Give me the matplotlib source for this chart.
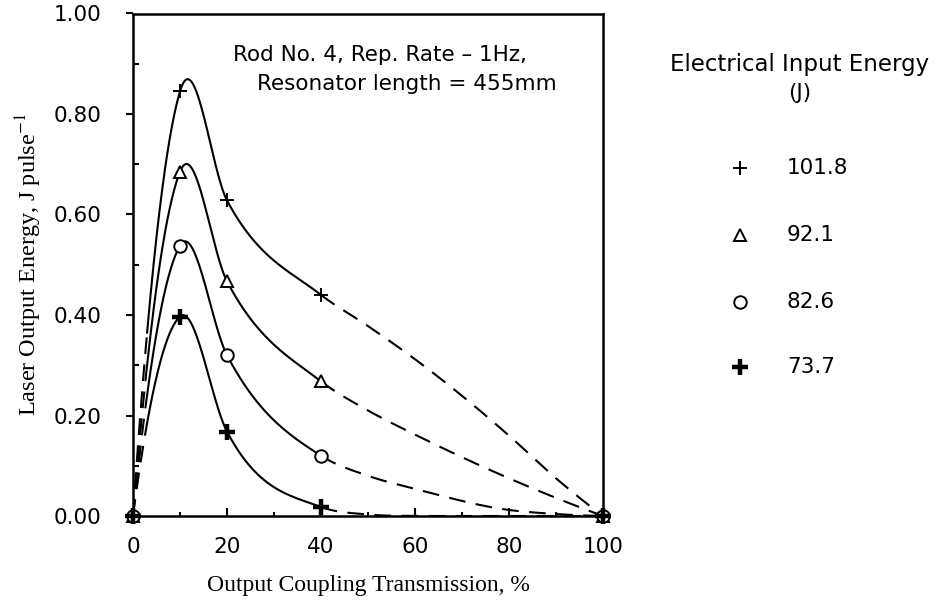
import numpy as np
import matplotlib
matplotlib.use("Agg")
import matplotlib.pyplot as plt
from matplotlib.lines import Line2D
from matplotlib.ticker import FormatStrFormatter, MultipleLocator

# Output coupling transmission (%) at which the energy was measured
transmission = [0, 10, 20, 40, 100]

# Laser output energy (J per pulse) for each electrical input energy
energy_1018 = [0.0, 0.845, 0.628, 0.440, 0.0]
energy_921 = [0.0, 0.685, 0.467, 0.268, 0.0]
energy_826 = [0.0, 0.538, 0.320, 0.120, 0.0]
energy_737 = [0.0, 0.397, 0.168, 0.018, 0.0]

# Extrapolated trend (dashed) beyond the last measured coupling
tail_x = [50, 60, 80, 90]
tail_1018 = [0.378, 0.312, 0.160, 0.075]
tail_921 = [0.210, 0.162, 0.075, 0.036]
tail_826 = [0.080, 0.054, 0.012, 0.004]
tail_737 = [0.003, 0.000, 0.000, 0.000]

input_energy = ["101.8", "92.1", "82.6", "73.7"]

W, H = 945, 608
plt.rcParams["mathtext.fontset"] = "stix"
fig = plt.figure(figsize=(W / 100, H / 100), dpi=100)

# axes box in pixel terms
x0, x1, y0, y1 = 133, 603, 516, 13.5
ax = fig.add_axes([x0 / W, 1 - y0 / H, (x1 - x0) / W, (y0 - y1) / H])


def smooth_curve(xk, yk, xs):
    """Piecewise cubic Hermite curve with three-point (Bessel) slopes."""
    xk = np.asarray(xk, float)
    yk = np.asarray(yk, float)
    n = len(xk)
    h = np.diff(xk)
    d = np.diff(yk) / h
    m = np.zeros(n)
    for i in range(1, n - 1):
        m[i] = (h[i] * d[i - 1] + h[i - 1] * d[i]) / (h[i - 1] + h[i])
    m[0] = ((2 * h[0] + h[1]) * d[0] - h[0] * d[1]) / (h[0] + h[1])
    m[-1] = ((2 * h[-1] + h[-2]) * d[-1] - h[-1] * d[-2]) / (h[-1] + h[-2])
    idx = np.clip(np.searchsorted(xk, xs) - 1, 0, n - 2)
    hh = h[idx]
    t = (xs - xk[idx]) / hh
    h00 = 2 * t**3 - 3 * t**2 + 1
    h10 = t**3 - 2 * t**2 + t
    h01 = -2 * t**3 + 3 * t**2
    h11 = t**3 - t**2
    return (h00 * yk[idx] + h10 * hh * m[idx]
            + h01 * yk[idx + 1] + h11 * hh * m[idx + 1])


series = [
    (energy_1018, tail_1018, dict(marker="+", ms=10, mew=1.4, mfc="none")),
    (energy_921, tail_921, dict(marker="^", ms=8, mew=1.4, mfc="white")),
    (energy_826, tail_826, dict(marker="o", ms=9, mew=1.4, mfc="white")),
    (energy_737, tail_737, dict(marker="+", ms=11, mew=3.2, mfc="none")),
]

lw = 1.5
dash = (0, (8, 5))
for vals, tail, mstyle in series:
    kx = transmission[:4] + tail_x + transmission[4:]
    ky = vals[:4] + tail + vals[4:]
    xs = np.linspace(0, 100, 1001)
    ys = np.clip(smooth_curve(kx, ky, xs), 0, None)
    lead = xs <= 3
    body = (xs >= 3) & (xs <= 40)
    rest = xs >= 40
    ax.plot(xs[lead], ys[lead], color="black", lw=lw, ls=dash)
    ax.plot(xs[body], ys[body], color="black", lw=lw, ls="-")
    ax.plot(xs[rest], ys[rest], color="black", lw=lw, ls=dash)
    ax.plot(transmission, vals, ls="none", color="black", mec="black",
            clip_on=False, zorder=5, **mstyle)

ax.set_xlim(0, 100)
ax.set_ylim(0, 1.0)
ax.xaxis.set_major_locator(MultipleLocator(20))
ax.xaxis.set_minor_locator(MultipleLocator(10))
ax.yaxis.set_major_locator(MultipleLocator(0.2))
ax.yaxis.set_minor_locator(MultipleLocator(0.1))
ax.yaxis.set_major_formatter(FormatStrFormatter("%.2f"))

sans = "DejaVu Sans"
fs = 15.5
ax.tick_params(axis="x", which="major", direction="in", length=6, width=1.5,
               pad=15, labelsize=fs)
ax.tick_params(axis="x", which="minor", direction="in", length=3, width=1.5)
ax.tick_params(axis="y", which="major", direction="out", length=5, width=1.5,
               pad=18, labelsize=fs)
ax.tick_params(axis="y", which="minor", direction="in", length=4, width=1.5)
for lab in ax.get_xticklabels() + ax.get_yticklabels():
    lab.set_family(sans)

for sp in ax.spines.values():
    sp.set_linewidth(1.8)

ax.set_xlabel("Output Coupling Transmission, %", family="Liberation Serif",
              fontsize=17)
ax.xaxis.set_label_coords(0.5, -(575 - y0) / (y0 - y1))
ax.set_ylabel("Laser Output Energy, J pulse$^{-1}$", family="Liberation Serif",
              fontsize=17.5)
ax.yaxis.set_label_coords(-(x0 - 44) / (x1 - x0), 0.5)

# run conditions
fig.text(233 / W, 1 - 55 / H, "Rod No. 4, Rep. Rate \u2013 1Hz,",
         family=sans, fontsize=fs, va="center", ha="left")
fig.text(257 / W, 1 - 84 / H, "Resonator length = 455mm",
         family=sans, fontsize=fs, va="center", ha="left")

# key for the electrical input energy
fig.text(800 / W, 1 - 64 / H, "Electrical Input Energy", family=sans,
         fontsize=16.5, va="center", ha="center")
fig.text(800 / W, 1 - 93 / H, "(J)", family=sans, fontsize=fs,
         va="center", ha="center")
key_y = [168, 235, 302, 367]
for (vals, tail, mstyle), label, yy in zip(series, input_energy, key_y):
    fig.add_artist(Line2D([740 / W], [1 - yy / H], transform=fig.transFigure,
                          ls="none", color="black", mec="black", **mstyle))
    fig.text(787 / W, 1 - yy / H, label, family=sans, fontsize=fs,
             va="center", ha="left")

fig.savefig("out.png", dpi=100)
